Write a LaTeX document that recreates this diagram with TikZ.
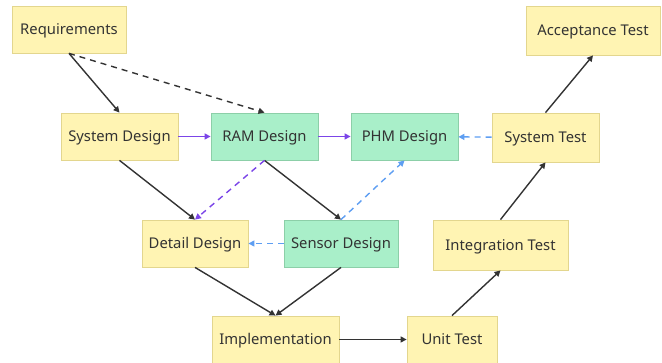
\documentclass[tikz,border=0pt]{standalone}
\usepackage{fontspec}
\setmainfont{Noto Sans}
\usetikzlibrary{arrows.meta}
\definecolor{stagefill}{HTML}{FFF4B3}
\definecolor{stageedge}{HTML}{E3D68E}
\definecolor{relfill}{HTML}{A9EFC9}
\definecolor{reledge}{HTML}{8CCFA8}
\definecolor{flowgray}{HTML}{333333}
\definecolor{ramviolet}{HTML}{7B45E8}
\definecolor{phmblue}{HTML}{5E9EF2}

\begin{document}
\begin{tikzpicture}[x=1pt, y=-1pt,
  font=\fontsize{14.8}{16}\selectfont,
  box/.style={draw, line width=0.8pt, text=flowgray, inner sep=0pt,
    text height=12pt, text depth=1pt, minimum height=47pt},
  stage/.style={box, fill=stagefill, draw=stageedge},
  rel/.style={box, fill=relfill, draw=reledge},
  flow/.style={flowgray, line width=1.4pt, -{Triangle[length=6pt, width=6pt]}},
  trace/.style={flow, dashed, dash pattern=on 6pt off 5pt},
  ramflow/.style={flow, ramviolet},
  phmflow/.style={flow, phmblue, dashed, dash pattern=on 6pt off 5pt},
]

% canvas
\useasboundingbox (0,0) rectangle (662,363);

% --- left branch ---
\node[stage, minimum width=114pt] (req)  at (69,29.5)    {Requirements};
\node[stage, minimum width=117pt] (sysd) at (119.5,136.5) {System Design};
\node[stage, minimum width=106pt] (det)  at (195,243.5)  {Detail Design};
\node[stage, minimum width=127pt] (impl) at (275.5,339.5) {Implementation};

% --- RAM / PHM nodes ---
\node[rel, minimum width=107pt] (ram) at (264.5,136.5) {RAM Design};
\node[rel, minimum width=107pt] (phm) at (404.5,136.5) {PHM Design};
\node[rel, minimum width=114pt] (sen) at (341,243.5)   {Sensor Design};

% --- right branch ---
\node[stage, minimum width=90pt]  (unit)  at (452,339.5)   {Unit Test};
\node[stage, minimum width=135pt, minimum height=50pt] (integ) at (500.5,245) {Integration Test};
\node[stage, minimum width=107pt, minimum height=49pt] (syst)  at (545.5,137.5) {System Test};
\node[stage, minimum width=134pt, minimum height=49pt] (acc)   at (593,30.5)    {Acceptance Test};

% --- V flow ---
\draw[flow] (req.south) -- (sysd.north);
\draw[trace] (req.south) -- (ram.north);
\draw[flow] (sysd.south) -- (det.north);
\draw[flow] (ram.south) -- (sen.north);
\draw[flow] (det.south) -- (impl.north);
\draw[flow] (sen.south) -- (impl.north);
\draw[flow] (impl) -- (unit);
\draw[flow] (unit.north) -- (integ.south);
\draw[flow] (integ.north) -- (syst.south);
\draw[flow] (syst.north) -- (acc.south);

% --- RAM / PHM links ---
\draw[ramflow] (sysd) -- (ram);
\draw[ramflow] (ram) -- (phm);
\draw[ramflow, dashed, dash pattern=on 6pt off 5pt] (ram.south) -- (det.north);
\draw[phmflow] (syst) -- (phm);
\draw[phmflow] (sen.north) -- (phm.south);
\draw[phmflow] (sen) -- (det);

\end{tikzpicture}
\end{document}
